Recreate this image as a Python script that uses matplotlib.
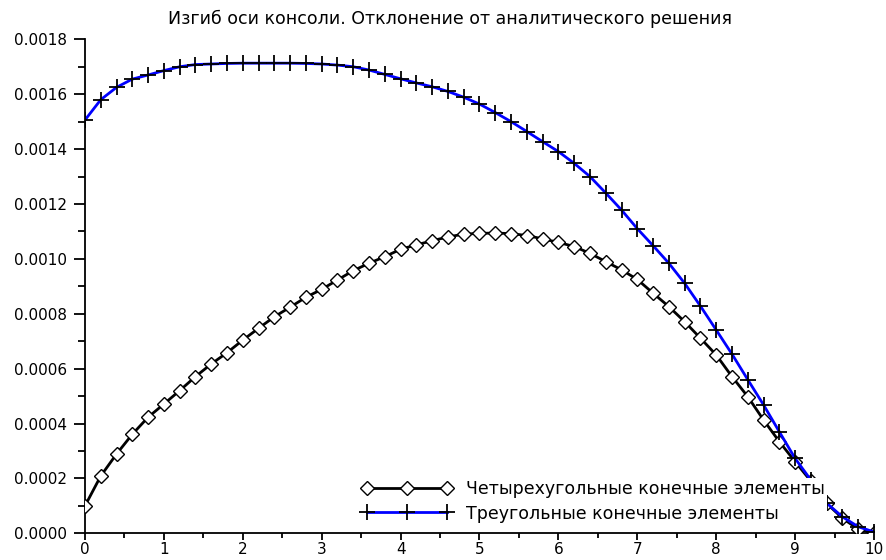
import numpy as np
import matplotlib
matplotlib.use('Agg')
import matplotlib.pyplot as plt
from matplotlib.ticker import MultipleLocator, FormatStrFormatter

# x positions of nodes along the console axis
x_nodes = [0.0, 0.2, 0.4, 0.6, 0.8, 1.0, 1.2, 1.4, 1.6, 1.8,
           2.0, 2.2, 2.4, 2.6, 2.8, 3.0, 3.2, 3.4, 3.6, 3.8,
           4.0, 4.2, 4.4, 4.6, 4.8, 5.0, 5.2, 5.4, 5.6, 5.8,
           6.0, 6.2, 6.4, 6.6, 6.8, 7.0, 7.2, 7.4, 7.6, 7.8,
           8.0, 8.2, 8.4, 8.6, 8.8, 9.0, 9.2, 9.4, 9.6, 9.8, 10.0]

# deviation, quadrilateral elements
dev_quad = [0.000100, 0.000209, 0.000289, 0.000361, 0.000423, 0.000471, 0.000520, 0.000571, 0.000617, 0.000658,
            0.000704, 0.000747, 0.000789, 0.000824, 0.000860, 0.000889, 0.000923, 0.000957, 0.000984, 0.001008,
            0.001035, 0.001051, 0.001066, 0.001080, 0.001090, 0.001093, 0.001094, 0.001092, 0.001085, 0.001073,
            0.001060, 0.001045, 0.001020, 0.000990, 0.000960, 0.000925, 0.000875, 0.000826, 0.000771, 0.000711,
            0.000650, 0.000571, 0.000498, 0.000413, 0.000334, 0.000261, 0.000190, 0.000109, 0.000055, 0.000015, 0.000002]

# deviation, triangular elements
dev_tri = [0.001506, 0.001580, 0.001625, 0.001655, 0.001670, 0.001686, 0.001700, 0.001708, 0.001710, 0.001712,
           0.001713, 0.001713, 0.001713, 0.001713, 0.001712, 0.001710, 0.001706, 0.001700, 0.001688, 0.001672,
           0.001656, 0.001641, 0.001627, 0.001610, 0.001589, 0.001564, 0.001533, 0.001500, 0.001464, 0.001427,
           0.001391, 0.001348, 0.001300, 0.001240, 0.001178, 0.001110, 0.001048, 0.000984, 0.000911, 0.000828,
           0.000741, 0.000653, 0.000560, 0.000468, 0.000370, 0.000273, 0.000194, 0.000110, 0.000060, 0.000024, 0.000005]

labels = ['Четырехугольные конечные элементы', 'Треугольные конечные элементы']
title = 'Изгиб оси консоли. Отклонение от аналитического решения'

plt.rcParams['font.family'] = ['DejaVu Sans']
fs_tick = 11
fs_text = 12.5

fig = plt.figure(figsize=(8.87, 5.6), dpi=100)
ax = fig.add_axes([85 / 887, (560 - 533.3) / 560, 789 / 887, 494 / 560])

ax.plot(x_nodes, dev_quad, color='black', lw=2, marker='D', ms=7.5,
        mfc='white', mec='black', mew=1.0, label=labels[0], zorder=3)
ax.plot(x_nodes, dev_tri, color='blue', lw=2, marker='+', ms=11,
        mec='black', mew=1.3, label=labels[1], zorder=4)

ax.set_xlim(0, 10)
ax.set_ylim(0, 0.0018)
ax.xaxis.set_major_locator(MultipleLocator(1))
ax.xaxis.set_minor_locator(MultipleLocator(0.5))
ax.yaxis.set_major_locator(MultipleLocator(0.0002))
ax.yaxis.set_minor_locator(MultipleLocator(0.0001))
ax.yaxis.set_major_formatter(FormatStrFormatter('%.4f'))

for s in ['top', 'right']:
    ax.spines[s].set_visible(False)
for s in ['left', 'bottom']:
    ax.spines[s].set_linewidth(1.3)

ax.tick_params(axis='y', which='major', direction='out', length=8, width=1.3, labelsize=fs_tick, pad=5)
ax.tick_params(axis='y', which='minor', direction='out', length=5, width=1.3)
ax.tick_params(axis='x', which='major', direction='out', length=5, width=1.3, labelsize=fs_tick, pad=1.5)
ax.tick_params(axis='x', which='minor', direction='out', length=3.5, width=1.3)

leg = ax.legend(loc='upper left', bbox_to_anchor=((360 - 85) / 789, (533.3 - 478) / 494),
                borderaxespad=0, borderpad=0.1, numpoints=3, handlelength=5.2,
                handletextpad=0.8, labelspacing=0.39, fontsize=fs_text,
                frameon=True, fancybox=False)
leg.get_frame().set_facecolor('white')
leg.get_frame().set_edgecolor('none')
leg.get_frame().set_alpha(1)

fig.text(450 / 887, 1 - 19 / 560, title, ha='center', va='center', fontsize=fs_text)

fig.savefig('out.png', dpi=100)
